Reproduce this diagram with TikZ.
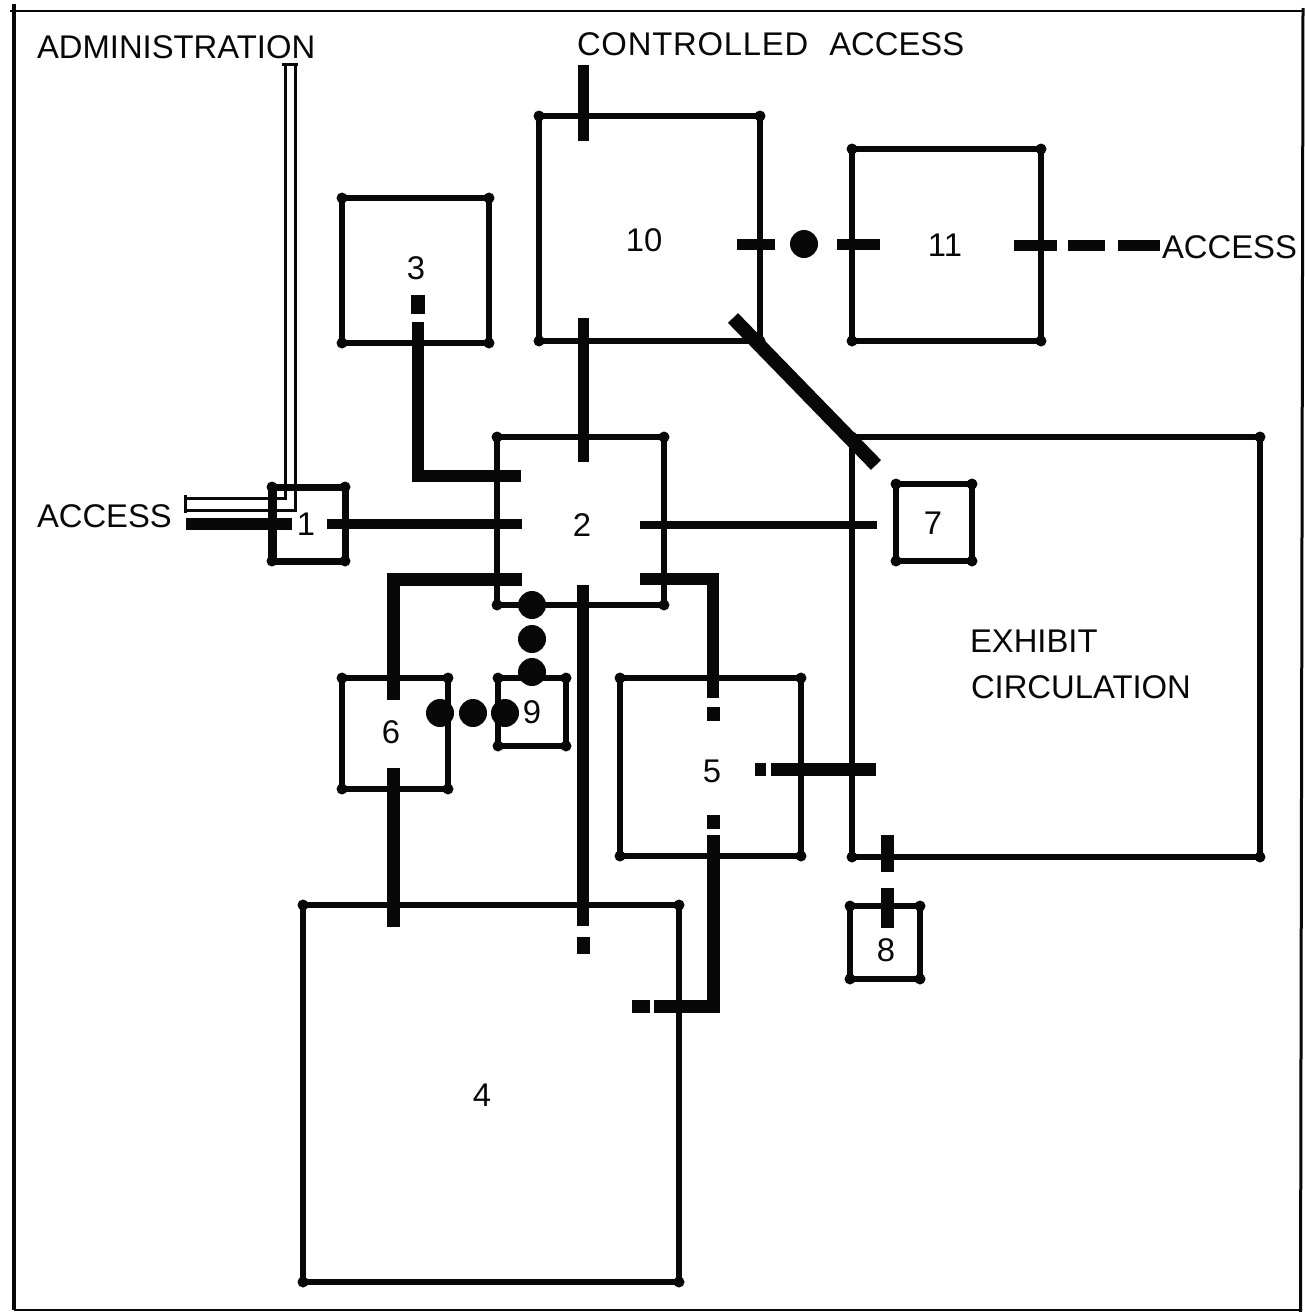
\documentclass[tikz,border=0pt]{standalone}
\usepackage{fontspec}
\setmainfont{Liberation Sans}
\newfontfamily\spacedfont[LetterSpace=2.4]{Liberation Sans}
\tikzset{
  room/.style={draw=ink,line width=6pt,inner sep=0pt,outer sep=0pt,minimum width=#1},
  lbl/.style={inner sep=0pt,outer sep=0pt,text=ink,font=\fontsize{32.8}{36}\selectfont},
  thick door/.style={draw=ink,line width=#1,line cap=butt,line join=miter},
  thin pipe/.style={draw=ink,line width=3pt,line join=miter},
  bead/.style={circle,fill=ink,inner sep=0pt,minimum size=28pt,outer sep=0pt},
  frameline/.style={draw=ink,line width=#1}
}
\definecolor{ink}{RGB}{8,8,8}
\newcommand{\makeroom}[6][6pt]{%
  \node[room=#4-#2,minimum height=#5-#3,line width=#1] (r#6) at ({(#2+#4)/2},{(#3+#5)/2}) {};
  \foreach \an in {north west,north east,south west,south east}
    \fill[ink] (r#6.\an) circle[radius=5.5pt];
}
\begin{document}
\begin{tikzpicture}[x=1pt,y=-1pt]
\useasboundingbox (0,0) rectangle (1304,1312);
\coordinate (fa) at (14,4);    \coordinate (fb) at (14,1310);
\coordinate (fc) at (10,11);   \coordinate (fd) at (1303,11);
\coordinate (fe) at (1303,8);  \coordinate (fg) at (1300.5,1312);
\coordinate (fh) at (14,1310); \coordinate (fi) at (1300,1310);
\draw[frameline=3.5pt] (fa) -- (fb);
\draw[frameline=2.5pt] (fc) -- (fd);
\draw[frameline=3pt] (fe) -- (fg);
\draw[frameline=2.5pt] (fh) -- (fi);

% rooms
\makeroom{539}{116}{760}{341}{ten}
\makeroom{852}{149}{1041}{341}{eleven}
\makeroom{342}{198}{489}{343}{three}
\makeroom{497}{437}{664}{605}{two}
\makeroom[7pt]{272}{487}{345}{561}{one}
\makeroom{896}{484}{972}{561}{seven}
\makeroom{852}{437}{1260}{857}{exhibit}
\makeroom{342}{678}{448}{789}{six}
\makeroom{498}{678}{566}{746}{nine}
\makeroom{620}{678}{801}{856}{five}
\makeroom{850}{906}{920}{979}{eight}
\makeroom{303}{905}{679}{1282}{four}
\draw[ink,line width=9pt] (rone.north west) -- (rone.south west);

% labels
\node[lbl,anchor=west] (tadmin) at (37,47) {ADMINISTRATION};
\node[lbl,anchor=west] (tctrl) at (577,44) {{\spacedfont CONTROLLED}\hspace{12pt} ACCESS};
\node[lbl,anchor=west] (taccl) at (37,516) {ACCESS};
\node[lbl,anchor=west] (taccr) at (1162,247) {ACCESS};
\node[lbl,anchor=west] (texh) at (970,641) {EXHIBIT};
\node[lbl,anchor=west] (tcirc) at (971,687) {CIRCULATION};
\node[lbl] (t1) at (306,524) {1};
\node[lbl] (t2) at (582,525) {2};
\node[lbl] (t3) at (416,268) {3};
\node[lbl] (t4) at (482,1095) {4};
\node[lbl] (t5) at (712,771) {5};
\node[lbl] (t6) at (391,732) {6};
\node[lbl] (t7) at (933,523) {7};
\node[lbl] (t8) at (886,950) {8};
\node[lbl] (t9) at (532,712) {9};
\node[lbl] (t10) at (644,240) {10};
\node[lbl] (t11) at (945,245) {11};

% connector end points
\coordinate (a1) at (583,65);   \coordinate (a2) at (583,141);
\coordinate (b1) at (583,318);  \coordinate (b2) at (583,462);
\coordinate (c1) at (737,244);  \coordinate (c2) at (775,244);
\coordinate (c3) at (837,244);  \coordinate (c4) at (880,244);
\coordinate (d1) at (1014,245); \coordinate (d2) at (1057,245);
\coordinate (d3) at (1068,245); \coordinate (d4) at (1105,245);
\coordinate (d5) at (1118,245); \coordinate (d6) at (1160,245);
\coordinate (e1) at (418,295);  \coordinate (e2) at (418,314);
\coordinate (e3) at (418,322);  \coordinate (e4) at (418,476); \coordinate (e5) at (521,476);
\coordinate (f1) at (186,524);  \coordinate (f2) at (292,524);
\coordinate (f3) at (327,524);  \coordinate (f4) at (522,524);
\coordinate (g1) at (640,525);  \coordinate (g2) at (877,525);
\coordinate (h1) at (733,318);  \coordinate (h2) at (876,465);
\coordinate (i1) at (522,579);  \coordinate (i2) at (393,579); \coordinate (i3) at (393,700);
\coordinate (j1) at (640,579);  \coordinate (j2) at (713,579); \coordinate (j3) at (713,698);
\coordinate (j4) at (713,707);  \coordinate (j5) at (713,721);
\coordinate (k1) at (713,815);  \coordinate (k2) at (713,829);
\coordinate (k3) at (713,835);  \coordinate (k4) at (713,1006); \coordinate (k5) at (654,1006);
\coordinate (k6) at (650,1006); \coordinate (k7) at (632,1006);
\coordinate (l1) at (755,769);  \coordinate (l2) at (766,769);
\coordinate (l3) at (771,769);  \coordinate (l4) at (876,769);
\coordinate (m1) at (583,585);  \coordinate (m2) at (583,926);
\coordinate (m3) at (583,937);  \coordinate (m4) at (583,954);
\coordinate (n1) at (393,768);  \coordinate (n2) at (393,927);
\coordinate (o1) at (887,835);  \coordinate (o2) at (887,872);
\coordinate (o3) at (887,888);  \coordinate (o4) at (887,928);
\coordinate (p1) at (285,64);   \coordinate (p2) at (285,498); \coordinate (p3) at (185,498);
\coordinate (q1) at (295,64);   \coordinate (q2) at (295,510); \coordinate (q3) at (185,510);
\coordinate (u1) at (282,64);   \coordinate (u2) at (298,64);
\coordinate (v1) at (185,495);  \coordinate (v2) at (185,513);

% heavy connectors
\path[thick door=11pt] (a1) -- (a2);
\path[thick door=11pt] (b1) -- (b2);
\path[thick door=11pt] (c1) -- (c2);
\path[thick door=11pt] (c3) -- (c4);
\path[thick door=11pt] (d1) -- (d2);
\path[thick door=11pt] (d3) -- (d4);
\path[thick door=11pt] (d5) -- (d6);
\path[thick door=14pt] (e1) -- (e2);
\path[thick door=12pt] (e3) -- (e4) -- (e5);
\path[thick door=12pt] (f1) -- (f2);
\path[thick door=10pt] (f3) -- (f4);
\path[thick door=8pt] (g1) -- (g2);
\path[thick door=14pt] (h1) -- (h2);
\path[thick door=13pt] (i1) -- (i2) -- (i3);
\path[thick door=12pt] (j1) -- (j2) -- (j3);
\path[thick door=13pt] (j4) -- (j5);
\path[thick door=13pt] (k1) -- (k2);
\path[thick door=13pt] (k3) -- (k4) -- (k5);
\path[thick door=13pt] (k6) -- (k7);
\path[thick door=13pt] (l1) -- (l2);
\path[thick door=13pt] (l3) -- (l4);
\path[thick door=12pt] (m1) -- (m2);
\path[thick door=13pt] (m3) -- (m4);
\path[thick door=13pt] (n1) -- (n2);
\path[thick door=13pt] (o1) -- (o2);
\path[thick door=13pt] (o3) -- (o4);

% administration pipe
\path[thin pipe] (p1) -- (p2) -- (p3);
\path[thin pipe] (q1) -- (q2) -- (q3);
\path[thin pipe] (u1) -- (u2);
\path[thin pipe] (v1) -- (v2);

% beads
\node[bead] (s0) at (804,244) {};
\node[bead] (s1) at (532,605) {};
\node[bead] (s2) at (532,639) {};
\node[bead] (s3) at (532,672) {};
\node[bead] (s4) at (440,713) {};
\node[bead] (s5) at (473,713) {};
\node[bead] (s6) at (505,713) {};
\end{tikzpicture}
\end{document}
